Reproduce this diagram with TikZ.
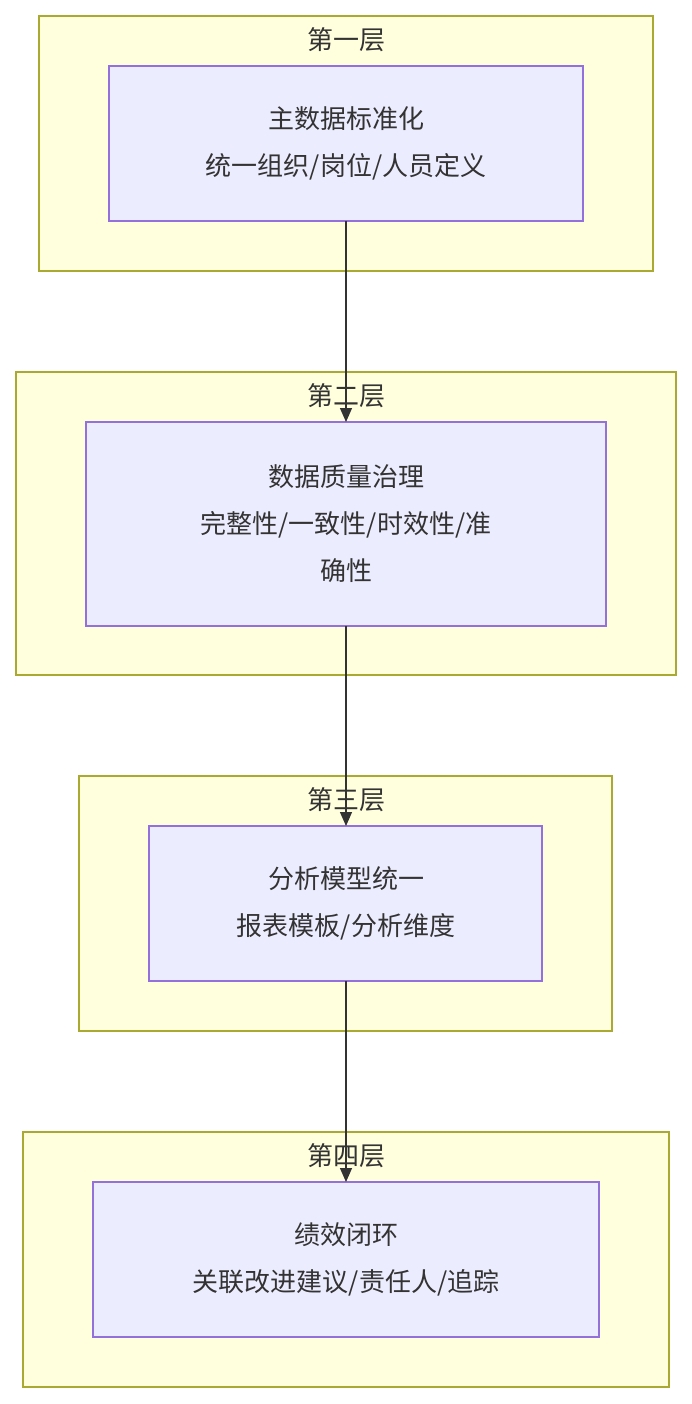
\documentclass[tikz,border=0pt]{standalone}
\usepackage{fontspec}
\setmainfont{Noto Sans CJK SC}
\usetikzlibrary{arrows.meta}
\definecolor{cf}{HTML}{FFFFDE}\definecolor{cs}{HTML}{AAAA33}
\definecolor{nf}{HTML}{ECECFF}\definecolor{ns}{HTML}{9370DB}
\definecolor{tx}{HTML}{333333}
\begin{document}
\begin{tikzpicture}[x=1pt,y=-1pt,
 clus/.style={fill=cf,draw=cs,line width=1.2pt},
 box/.style={fill=nf,draw=ns,line width=1.2pt},
 lab/.style={text=tx,font=\fontsize{26}{30}\selectfont},
 txt/.style={text=tx,align=center,font=\fontsize{26}{47}\selectfont},
 arr/.style={draw=tx,line width=1.3pt,-{Triangle[length=14pt,width=12pt]}}]
\useasboundingbox (0,0) rectangle (692,1404);
\fill[white] (0,0) rectangle (692,1404);
\draw[clus] (39,16) rectangle (653,271);
\draw[clus] (16,372) rectangle (676,675);
\draw[clus] (79,776) rectangle (612,1031);
\draw[clus] (23,1132) rectangle (669,1387);
\node[lab] (l1) at (346,40) {第一层};
\node[lab] (l2) at (346,396) {第二层};
\node[lab] (l3) at (346,800) {第三层};
\node[lab] (l4) at (346,1156) {第四层};
\draw[box] (109,66) rectangle (583,221); \coordinate (n1t) at (346,66); \coordinate (n1b) at (346,221);
\draw[box] (86,422) rectangle (606,626); \coordinate (n2t) at (346,422); \coordinate (n2b) at (346,626);
\draw[box] (149,826) rectangle (542,981); \coordinate (n3t) at (346,826); \coordinate (n3b) at (346,981);
\draw[box] (93,1182) rectangle (599,1337); \coordinate (n4t) at (346,1182);
\node[txt] (t1) at (346,143.5) {主数据标准化\\统一组织/岗位/人员定义};
\node[txt] (t2) at (346,524) {数据质量治理\\完整性/一致性/时效性/准\\确性};
\node[txt] (t3) at (346,903.5) {分析模型统一\\报表模板/分析维度};
\node[txt] (t4) at (346,1259.5) {绩效闭环\\关联改进建议/责任人/追踪};
\draw[arr] (n1b) -- (n2t);
\draw[arr] (n2b) -- (n3t);
\draw[arr] (n3b) -- (n4t);
\end{tikzpicture}
\end{document}
